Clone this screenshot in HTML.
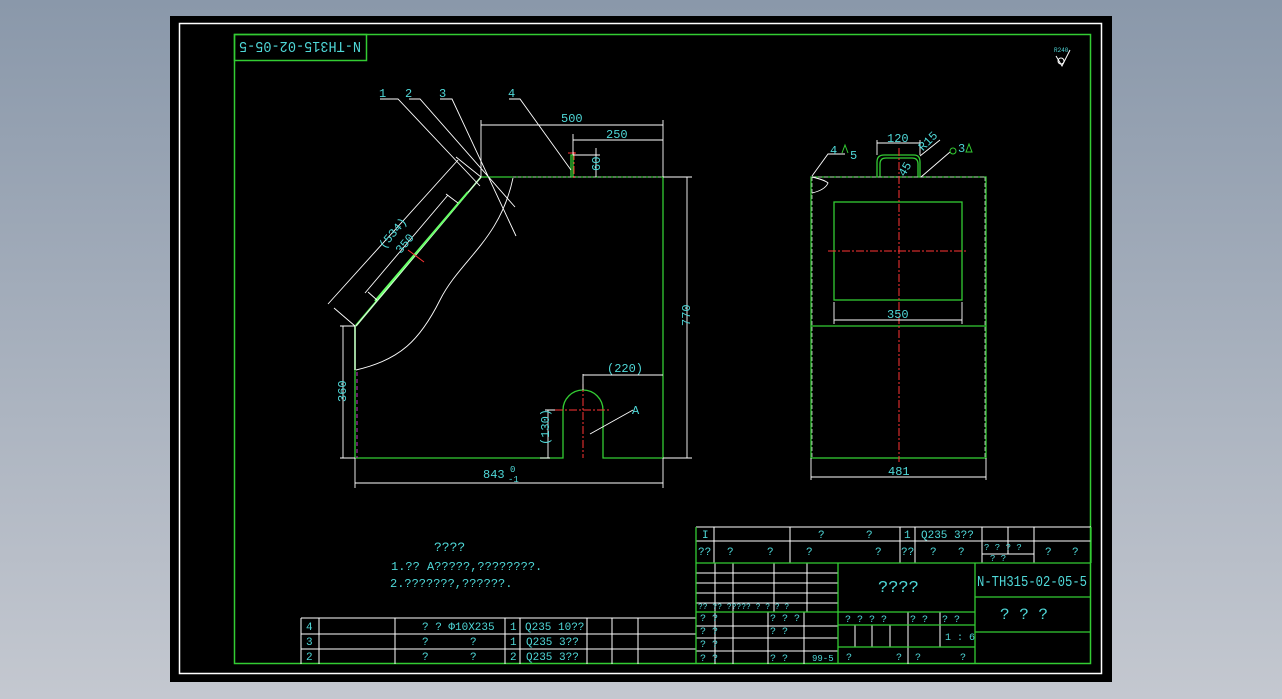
<!DOCTYPE html>
<html><head><style>
html,body{margin:0;padding:0;}
body{width:1282px;height:699px;background:linear-gradient(#8a98aa,#c4c8d0);overflow:hidden;}
svg{position:absolute;left:0;top:0;}
text{font-family:"Liberation Mono",monospace;fill:#4fd8d8;font-size:11px;}
</style></head><body>
<svg width="1282" height="699" xmlns="http://www.w3.org/2000/svg">
<rect x="170" y="16" width="942" height="666" fill="#000"/>
<rect x="179.5" y="23.5" width="922" height="650" fill="none" stroke="#fff" stroke-width="1.5"/>
<rect x="234.5" y="34.5" width="856" height="629" fill="none" stroke="#3c3" stroke-width="1.5"/>
<rect x="234.5" y="34.5" width="132" height="26" fill="none" stroke="#3c3" stroke-width="1.5"/>
<text x="300" y="52" style="font-size:15px" text-anchor="middle" textLength="122" lengthAdjust="spacingAndGlyphs" transform="rotate(180 300 47)">N-TH315-02-05-5</text>
<!-- roughness symbol -->
<text x="1054" y="52" style="font-size:6px">R240</text>
<path d="M1056 56 L1062 66 L1070 50" stroke="#fff" fill="none"/><circle cx="1061" cy="61" r="3" stroke="#fff" fill="none"/>

<!-- MAIN VIEW -->
<g fill="none" stroke="#3c3" stroke-width="1.3">
<path d="M355 326 L355 458 L563 458 L563 410 A20 20 0 0 1 603 410 L603 458 L663 458 L663 177 L481 177 L355 326"/>
<path d="M571 177 L571 155 L573 155 L573 177"/>
</g>
<path d="M513 177 L663 177" stroke="#aaa" stroke-dasharray="3 2"/>
<path d="M481 177 L356 326 M355 326 L355 370" stroke="#cfc" stroke-width="1.5"/>
<path d="M357 372 L357 458" stroke="#c3c" stroke-dasharray="4 3"/>
<path d="M375 301 L468 192" stroke="#6f6" stroke-width="2"/>
<g stroke="#f33" stroke-dasharray="8 2 2 2">
<path d="M583 384 L583 458 M555 410 L610 410"/>
<path d="M574 152 L574 180 M568 153 L578 153"/>
</g>
<path d="M408 250 L424 262" stroke="#f33"/>
<g stroke="#fff" fill="none" stroke-width="0.9">
<path d="M356 370 C400 360 420 340 440 300 C460 260 500 240 513 178"/>
<path d="M380 99 L398 99 L480 186 M409 99 L420 99 L515 207 M440 99 L452 99 L516 236 M509 99 L520 99 L571 170 M633 410 L590 434"/>
<path d="M481 120 L481 177 M481 125 L663 125 M663 120 L663 177 M573 140 L663 140 M573 134 L573 155 M573 155 L600 155 M596 148 L596 177"/>
<path d="M663 177 L692 177 M663 458 L692 458 M687 177 L687 458"/>
<path d="M355 458 L340 458 M355 326 L340 326 M343 326 L343 458"/>
<path d="M355 458 L355 488 M663 458 L663 488 M355 483 L663 483"/>
<path d="M583 374 L583 390 M583 375 L663 375 M555 410 L545 410 M548 410 L548 458 M550 458 L540 458"/>
<path d="M328 304 L458 160 M334 308 L355 326 M456 157 L481 177 M365 293 L448 195 M368 292 L377 300 M446 194 L458 203"/>
</g>
<text x="379" y="97" style="font-size:12px">1</text><text x="405" y="97" style="font-size:12px">2</text><text x="439" y="97" style="font-size:12px">3</text><text x="508" y="97" style="font-size:12px">4</text>
<text x="561" y="122" style="font-size:12px">500</text><text x="606" y="138" style="font-size:12px">250</text>
<text x="590" y="169" style="font-size:12px" transform="rotate(-90 596 165)">60</text>
<text x="676" y="320" style="font-size:12px" transform="rotate(-90 686 316)">770</text>
<text x="332" y="396" style="font-size:12px" transform="rotate(-90 342 392)">360</text>
<text x="607" y="372" style="font-size:12px">(220)</text>
<text x="530" y="438" style="font-size:12px" transform="rotate(-90 543 432)">(130)</text>
<text x="632" y="414" style="font-size:12px">A</text>
<text x="483" y="478" style="font-size:12px">843</text><text x="510" y="472" style="font-size:9px">0</text><text x="508" y="482" style="font-size:9px">-1</text>
<text x="376" y="240" style="font-size:12px" transform="rotate(-50 390 236)">(534)</text>
<text x="394" y="248" style="font-size:12px" transform="rotate(-50 404 244)">350</text>

<!-- SIDE VIEW -->
<g fill="none" stroke="#3c3" stroke-width="1.3">
<rect x="811" y="177" width="175" height="281"/>
<rect x="834" y="202" width="128" height="98"/>
<path d="M811 326 L986 326"/>
<path d="M877 177 L877 162 Q877 155 884 155 L914 155 Q920 155 920 162 L920 177"/>
<path d="M880 177 L880 164 Q880 158 886 158 L912 158 Q918 158 918 164 L918 177"/>
</g>
<path d="M812 177 L812 458 M985 177 L985 458 M812 177 L985 177" stroke="#aaa" stroke-dasharray="4 2"/>
<g stroke="#f33" stroke-dasharray="8 2 2 2">
<path d="M899 148 L899 462 M828 251 L966 251"/>
</g>
<g stroke="#fff" fill="none" stroke-width="0.9">
<path d="M811 458 L811 480 M986 458 L986 480 M811 477 L986 477"/>
<path d="M834 302 L834 324 M962 302 L962 324 M834 320 L962 320"/>
<path d="M877 140 L877 155 M920 140 L920 155 M877 143 L920 143"/>
<path d="M812 176 L828 154 L845 154 M812 177 Q825 180 828 183 Q825 190 812 193 M920 156 L940 140 M921 177 L950 152"/>
</g>
<text x="830" y="154" style="font-size:12px">4</text><text x="850" y="159" style="font-size:12px">5</text>
<text x="887" y="142" style="font-size:12px">120</text><text x="919" y="148" style="font-size:12px" transform="rotate(-45 925 145)">R15</text>
<text x="898" y="174" style="font-size:12px" transform="rotate(-60 904 170)">45</text>
<circle cx="953" cy="151" r="3" stroke="#3c3" fill="none"/><text x="958" y="152" style="font-size:12px">3</text>
<path d="M966 152 L969 144 L972 152 Z" stroke="#3c3" fill="none"/><path d="M842 153 L845 145 L848 153" stroke="#3c3" fill="none"/>
<text x="887" y="318" style="font-size:12px">350</text><text x="888" y="475" style="font-size:12px">481</text>

<!-- NOTES -->
<text x="434" y="551" style="font-size:13px">????</text>
<text x="391" y="570" style="font-size:12px">1.?? A?????,????????.</text>
<text x="390" y="587" style="font-size:12px">2.???????,??????.</text>

<!-- PARTS LIST -->
<g stroke="#fff" fill="none">
<path d="M301 618 L696 618 M301 634 L696 634 M301 649 L696 649"/>
<path d="M301 618 L301 664 M319 618 L319 664 M395 618 L395 664 M505 618 L505 664 M520 618 L520 664 M587 618 L587 664 M612 618 L612 664 M638 618 L638 664"/>
</g>
<g>
<text x="306" y="630">4</text><text x="306" y="645">3</text><text x="306" y="660">2</text>
<text x="422" y="630">?  ?  Φ10X235</text><text x="422" y="645">?</text><text x="470" y="645">?</text>
<text x="422" y="660">?</text><text x="470" y="660">?</text>
<text x="510" y="630">1</text><text x="510" y="645">1</text><text x="510" y="660">2</text>
<text x="525" y="630">Q235 10??</text><text x="526" y="645">Q235 3??</text><text x="526" y="660">Q235 3??</text>
</g>

<!-- TITLE BLOCK -->
<g stroke="#fff" fill="none">
<path d="M696 527 L1091 527 M696 541 L1091 541 M982 554 L1034 554"/>
<path d="M714 527 L714 563 M790 527 L790 563 M900 527 L900 563 M915 527 L915 563 M982 527 L982 563 M1008 527 L1008 554 M1034 527 L1034 563"/>
<path d="M696 573 L838 573 M696 583 L838 583 M696 593 L838 593 M696 603 L838 603 M696 626 L838 626 M696 638 L838 638 M696 651 L838 651"/>
<path d="M715 563 L715 664 M733 563 L733 664 M774 563 L774 612 M807 563 L807 612 M768 612 L768 664 M804 612 L804 664"/>
<path d="M855 625 L855 647 M872 625 L872 647 M890 625 L890 647 M908 612 L908 664 M940 612 L940 647"/>
</g>
<g stroke="#3c3" fill="none" stroke-width="1.3">
<path d="M696 527 L696 664 M696 563 L1091 563 M1091 527 L1091 563"/>
<path d="M838 563 L838 664 M975 563 L975 664 M838 612 L975 612 M838 625 L975 625 M838 647 L975 647 M975 597 L1091 597 M975 632 L1091 632"/>
<path d="M696 612 L838 612"/>
</g>
<g>
<text x="702" y="538">I</text><text x="818" y="538">?</text><text x="866" y="538">?</text><text x="904" y="538">1</text><text x="921" y="538">Q235 3??</text>
<text x="698" y="555">??</text><text x="727" y="555">?</text><text x="767" y="555">?</text><text x="806" y="555">?</text><text x="875" y="555">?</text>
<text x="901" y="555">??</text><text x="930" y="555">?</text><text x="958" y="555">?</text>
<text x="984" y="550" style="font-size:9px">? ? ? ?</text><text x="990" y="561" style="font-size:9px">?   ?</text>
<text x="1045" y="555">?</text><text x="1072" y="555">?</text>
<text x="698" y="609" style="font-size:8px">?? ??  ?????  ?   ? ? ?</text>
<text x="700" y="621" style="font-size:10px">?   ?</text><text x="770" y="621" style="font-size:10px">? ? ?</text>
<text x="700" y="634" style="font-size:10px">?   ?</text><text x="770" y="634" style="font-size:10px">?   ?</text>
<text x="700" y="647" style="font-size:10px">?   ?</text>
<text x="700" y="661" style="font-size:10px">?   ?</text><text x="770" y="661" style="font-size:10px">?   ?</text><text x="812" y="661" style="font-size:9px">99-5</text>
<text x="845" y="622" style="font-size:10px">?  ?  ?  ?</text><text x="910" y="622" style="font-size:10px">?  ?</text><text x="942" y="622" style="font-size:10px">?  ?</text>
<text x="945" y="640" style="font-size:10px">1 : 6</text>
<text x="846" y="660" style="font-size:10px">?</text><text x="896" y="660" style="font-size:10px">?</text><text x="915" y="660" style="font-size:10px">?</text><text x="960" y="660" style="font-size:10px">?</text>
<text x="878" y="592" style="font-size:17px">????</text>
<text x="977" y="586" style="font-size:15px" textLength="110" lengthAdjust="spacingAndGlyphs">N-TH315-02-05-5</text>
<text x="1000" y="619" style="font-size:16px">?  ?  ?</text>
</g>
</svg>
</body></html>
